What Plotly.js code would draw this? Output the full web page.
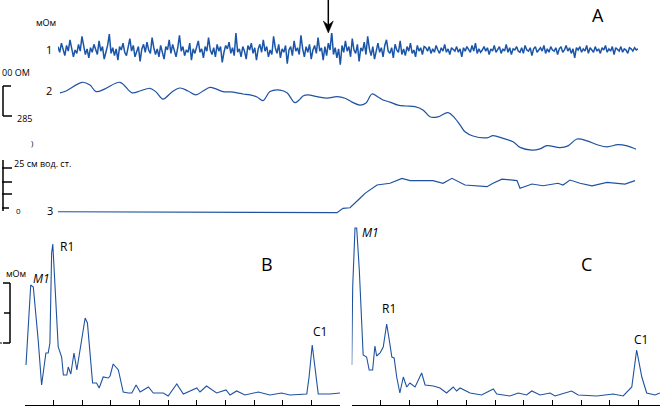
<!DOCTYPE html>
<html>
<head>
<meta charset="utf-8">
<script src="https://cdn.plot.ly/plotly-3.0.1.min.js"></script>
<style>html,body{margin:0;padding:0;background:#fff;}#chart{width:662px;height:407px;}</style>
</head>
<body>
<div id="chart"></div>
<script>
// ---- Panel A, trace 1: EEG (relative amplitude), evenly sampled over the record (0..290 s)
const eegValues = [
3,-2,6,1,-5,4,-1,9,2,-6,0,-3,5,-1,12,3,-4,1,-7,2,
-2,5,0,-4,8,-1,3,-8,-2,4,14,-3,2,-5,1,-9,3,0,6,-2,
-5,2,10,-1,4,-6,-1,3,-10,1,5,-2,7,0,-3,11,2,-4,1,-6,
4,-1,-8,3,0,9,-3,5,-2,-6,2,13,-1,3,-5,0,-2,6,-9,1,
-3,4,8,-2,1,-7,3,-1,11,0,-4,2,-6,5,-1,3,-11,-2,4,1,
7,-3,2,-5,15,-2,1,-6,3,-1,-8,4,0,6,-3,2,-9,1,5,-2,
9,-1,3,-6,0,-4,12,2,-3,5,-7,1,-2,4,-12,0,3,-5,8,-1,
2,-4,13,1,-6,3,-2,5,-8,0,
4,-3,11,-1,2,-9,3,-5,6,0,16,-4,2,-7,1,-13,4,-2,8,-1,
3,-6,10,0,-3,5,-10,2,-1,7,-4,12,1,-5,3,-8,0,6,-2,2,
-6,4,9,-1,-3,2,-7,5,0,-2,8,-4,1,-5,3,-1,6,-3,0,-6,
4,-1,2,-4,3,
2,-1,3,-3,1,-2,4,0,-3,2,-1,5,-2,1,-4,2,0,-1,3,-2,
1,-6,2,-1,3,0,-2,4,-1,6,-3,1,-2,0,3,-1,2,-4,1,-1,
4,-2,0,3,-3,1,-1,5,-2,2,-4,1,0,3,-1,-2,2,-3,4,0,
-1,2,-5,1,3,-2,0,2,-1,4,-3,1,-2,3,0,-1,2,-4,1,3,
-2,0,4,-1,2,-3,1,-7,2,0,3,-2,1,-1,4,-3,2,0,-2,3,
-1,1,-3,2,0,4,-2,1,-1,3,-4,2,0,-1,3,-2,1,0,-3,2,
1,-1,2,0,1
];
const recordLength = 290; // s

// ---- Panel A, trace 2: impedance (Ohm, relative)
const impTime = [1,4,12,16,19,23.5,31,37,41,46,49,52.5,57,61,65,69,72.5,76,79,82.5,86,89.5,92.5,96,99.5,102.5,106,111,114.5,118.5,121,122.5,125,129.5,134.5,139.5,143.5,147,151,154,157,160,162.5,166,170,174,178.5,182.5,186,190,195,198.5,201,203.5,207.5,214.5,217.5,222.5,227.5,231,237,241,244.5,251,255,259.5,264.5,270,274.5,280,284.5,289];
const impValues = [204,210,239,230,208,217,239,204,210,219,207,183,207,220,210,197,210,222,217,208,207,204,200,197,190,178,208,213,204,171,183,193,197,191,186,191,186,173,163,170,200,190,180,173,163,160,158,147,124,124,138,119,97,74,60,54,61,52,41,22,13,17,28,21,27,50,44,30,24,31,27,16];

// ---- Panel A, trace 3: pressure (cm H2O)
const presTime = [0,20,40,60,80,100,120,135,139.5,142.5,146,151,153.5,159.5,166,172,176,187.5,192.5,197,203.5,214.5,217.5,222,229.5,231,237,242.5,250,252.5,256,261,267,274.5,279.5,283.5,288.5];
const presValues = [0.2,0.1,0,-0.1,0.1,-0.2,-0.1,-0.3,-0.3,2.0,2.3,7.3,9.9,14.3,15.2,17.8,16.6,16.6,15.2,17.8,14.3,13.4,15.2,17.4,16.6,12.6,14.8,13.9,15.2,14.3,16.9,15.2,13.8,15.7,15.2,14.8,16.6];

// ---- Panel B spectrum
const freqB = [0.0035,0.0115,0.020,0.029,0.041,0.046,0.058,0.066,0.073,0.081,0.087,0.093,0.097,0.105,0.116,0.128,0.134,0.146,0.151,0.160,0.171,0.181,0.198,0.210,0.218,0.227,0.236,0.250,0.259,0.273,0.291,0.297,0.308,0.326,0.343,0.361,0.373,0.388,0.402,0.431,0.448,0.483,0.500,0.530,0.553,0.600,0.611,0.634,0.669,0.702,0.716,0.739,0.768,0.815,0.855,0.896,0.925,0.984,0.992,1.003,1.015,1.024,1.065,1.100];
const powerB = [40,85,120,118,85,65,20,38,52,52,62,152,161,118,58,48,30,30,38,31,52,35,68,87,82,52,22,22,17,28,27,29,41,35,13,12,12,20,13,18,12,12,9,21,11,17,13,19,12,15,10,14,10,13,10,12,10,11,28,60,28,11,11,12];

// ---- Panel C spectrum
const freqC = [0,0.0035,0.0115,0.0174,0.0265,0.035,0.040,0.052,0.061,0.073,0.081,0.087,0.099,0.110,0.122,0.131,0.140,0.148,0.157,0.168,0.180,0.192,0.203,0.221,0.244,0.256,0.285,0.308,0.331,0.354,0.366,0.378,0.413,0.453,0.494,0.506,0.552,0.581,0.610,0.628,0.657,0.692,0.709,0.732,0.767,0.790,0.855,0.912,0.947,0.977,0.994,1.012,1.029,1.058,1.075];
const powerC = [40,118,177,177,135,85,50,48,35,35,59,49,52,58,81,65,48,47,28,12,28,18,22,18,32,20,19,17,12,18,14,17,12,10,16,11,9,12,10,14,10,12,9,11,14,10,9,11,9,18,55,28,12,10,12];

const W = 662, H = 407;
const px = v => v / W;
const py = v => 1 - v / H;
const blue = '#1f52a0';

const eegTime = eegValues.map((_, i) => i * recordLength / (eegValues.length - 1));

const traces = [
  {x: eegTime, y: eegValues, xaxis: 'x', yaxis: 'y', mode: 'lines', line: {color: '#1a55a8', width: 1.5}},
  {x: impTime, y: impValues, xaxis: 'x', yaxis: 'y2', mode: 'lines', line: {color: blue, width: 1.2, shape: 'spline'}},
  {x: presTime, y: presValues, xaxis: 'x', yaxis: 'y3', mode: 'lines', line: {color: blue, width: 1.2}},
  {x: freqB, y: powerB, xaxis: 'x2', yaxis: 'y4', mode: 'lines', line: {color: blue, width: 1.1}},
  {x: freqC, y: powerC, xaxis: 'x3', yaxis: 'y5', mode: 'lines', line: {color: blue, width: 1.1}}
];

const hidden = {visible: false, fixedrange: true};
const freqAxis = {showline: true, linecolor: '#000', linewidth: 1, ticks: 'inside', ticklen: 5, tickwidth: 1, tickcolor: '#000',
  tick0: 0, dtick: 0.1, showticklabels: false, showgrid: false, zeroline: false};

function seg(x0, y0, x1, y1, w) {
  return {type: 'line', xref: 'paper', yref: 'paper', x0: px(x0), y0: py(y0), x1: px(x1), y1: py(y1), line: {color: '#000', width: w || 1.5}};
}
function ann(text, x, y, size, extra) {
  return Object.assign({text: text, x: px(x), y: py(y), xref: 'paper', yref: 'paper', showarrow: false,
    xanchor: 'center', yanchor: 'middle', font: {family: 'Open Sans, Noto Sans, sans-serif', size: size, color: '#000'}}, extra || {});
}

const shapes = [
  seg(3, 86, 3, 116), seg(3, 86, 11, 86), seg(3, 116, 12, 116),
  seg(3, 160, 3, 211), seg(2, 168, 12, 168), seg(2, 182, 12, 182), seg(2, 194, 12, 194), seg(2, 208, 9, 208),
  seg(10, 283, 10, 343), seg(3, 283, 10, 283), seg(4, 313, 10, 313), seg(3, 343, 10, 343), seg(0, 343, 2, 343, 1),
  seg(328.3, 0, 328.3, 26, 1.5),
  {type: 'path', xref: 'paper', yref: 'paper', fillcolor: '#000', line: {color: '#000', width: 0.5},
   path: `M ${px(323.3)} ${py(21)} L ${px(328.3)} ${py(33)} L ${px(333.3)} ${py(21)} L ${px(328.3)} ${py(25)} Z`}
];

const annotations = [
  ann('A', 597.5, 15, 18),
  ann('B', 266.7, 264, 18),
  ann('C', 586.7, 264, 18),
  ann('1', 48.7, 49.5, 11),
  ann('2', 49, 90.5, 11),
  ann('3', 49.7, 210, 11),
  ann('мОм', 45.5, 23, 9),
  ann('00 ОМ', 0, 72, 9, {xanchor: 'left'}),
  ann('285', 24, 118, 9),
  ann(')', 32, 143, 8),
  ann('25 см вод. ст.', 12, 163.5, 9, {xanchor: 'left'}),
  ann('0', 18, 210, 8),
  ann('мОм', 16, 273, 9),
  ann('<i>M1</i>', 41.7, 278.5, 12),
  ann('R1', 67, 246, 12),
  ann('C1', 319.5, 331.5, 12),
  ann('<i>M1</i>', 370.5, 232, 12),
  ann('R1', 389.3, 308, 12),
  ann('C1', 641.3, 339.5, 12)
];

const layout = {
  width: W, height: H, margin: {l: 0, r: 0, t: 0, b: 0}, showlegend: false,
  paper_bgcolor: '#fff', plot_bgcolor: 'rgba(0,0,0,0)',
  xaxis: Object.assign({domain: [px(58), px(638)], range: [0, recordLength], anchor: 'y'}, hidden),
  yaxis: Object.assign({domain: [py(67), py(33)], range: [-15, 15], anchor: 'x'}, hidden),
  yaxis2: Object.assign({domain: [py(154), py(79)], range: [0, 250], anchor: 'x'}, hidden),
  yaxis3: Object.assign({domain: [py(215), py(158)], range: [-1.5, 28.5], anchor: 'x'}, hidden),
  xaxis2: Object.assign({domain: [px(25), px(340)], range: [0, 1.1], anchor: 'y4'}, freqAxis),
  yaxis4: Object.assign({domain: [py(405), py(225)], range: [0, 180], anchor: 'x2'}, hidden),
  xaxis3: Object.assign({domain: [px(351.7), px(660)], range: [0, 1.0754], anchor: 'y5'}, freqAxis),
  yaxis5: Object.assign({domain: [py(405), py(225)], range: [0, 180], anchor: 'x3'}, hidden),
  shapes: shapes,
  annotations: annotations
};

Plotly.newPlot('chart', traces, layout, {displayModeBar: false, staticPlot: true});
</script>
</body>
</html>
